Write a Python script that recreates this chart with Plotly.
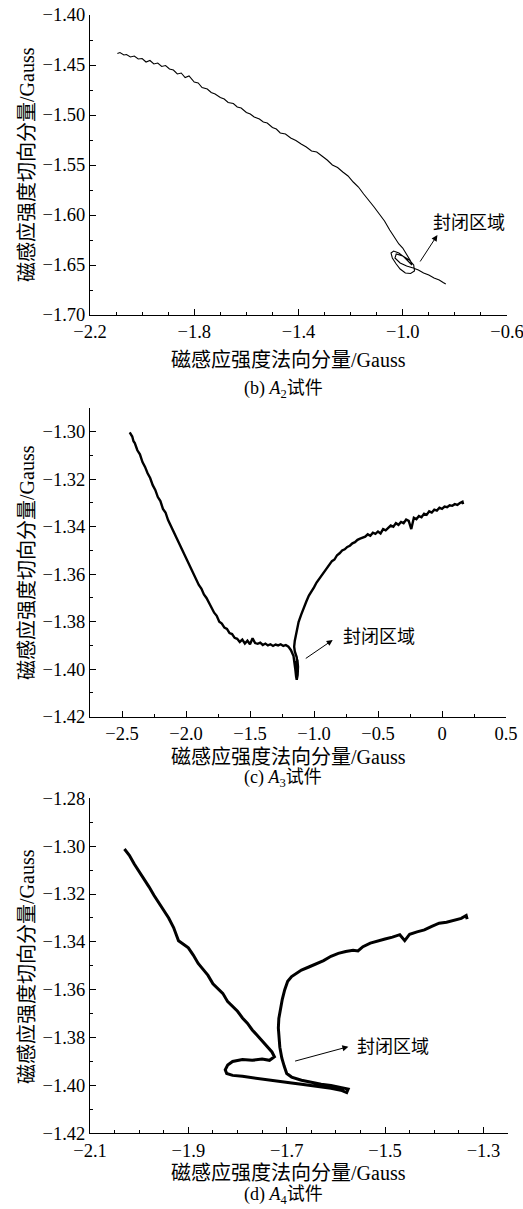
import plotly.graph_objects as go

# ---------- Panel (b) A2 ----------
b_x = [-2.095,-2.085,-2.07,-2.06,-2.045,-2.03,-2.015,-2.0,-1.985,-1.97,-1.955,-1.94,-1.925,-1.91,-1.895,-1.88,
       -1.865,-1.85,-1.835,-1.82,-1.80,-1.785,-1.77,-1.75,-1.735,-1.72,-1.70,-1.685,-1.67,-1.65,-1.635,-1.62,
       -1.60,-1.585,-1.57,-1.55,-1.535,-1.52,-1.50,-1.485,-1.47,-1.45,-1.43,-1.41,-1.39,-1.37,-1.35,-1.33,
       -1.31,-1.29,-1.27,-1.25,-1.23,-1.21,-1.19,-1.17,-1.15,-1.13,-1.11,-1.09,-1.07,-1.05,-1.03,-1.015,-1.0,
       -0.985,-0.97,-0.965,
       -0.975,-0.995,-1.015,-1.035,-1.045,-1.040,-1.025,-1.010,-0.990,-0.970,-0.955,-0.958,-0.975,-1.000,
       -1.025,-1.030,-1.010,-0.985,-0.960,-0.940,-0.920,-0.900,-0.880,-0.860,-0.845,-0.835]
b_y = [-1.4385,-1.4375,-1.4400,-1.4395,-1.4420,-1.4410,-1.4440,-1.4435,-1.4470,-1.4455,-1.4490,-1.4480,-1.4515,
       -1.4505,-1.4540,-1.4550,-1.4590,-1.4580,-1.4625,-1.4610,-1.4670,-1.4680,-1.4725,-1.4740,-1.4775,-1.4790,
       -1.4825,-1.4840,-1.4875,-1.4885,-1.4920,-1.4930,-1.4975,-1.4990,-1.5020,-1.5040,-1.5070,-1.5080,-1.5125,
       -1.5140,-1.5180,-1.5190,-1.5230,-1.5255,-1.5290,-1.5320,-1.5360,-1.5370,-1.5410,-1.5450,-1.5500,-1.5525,
       -1.5570,-1.5610,-1.5670,-1.5720,-1.5790,-1.5850,-1.5920,-1.5990,-1.6060,-1.6150,-1.6230,-1.6290,-1.6330,
       -1.6390,-1.6460,-1.6500,
       -1.6470,-1.6420,-1.6380,-1.6360,-1.6380,-1.6430,-1.6490,-1.6540,-1.6580,-1.6585,-1.6560,-1.6500,-1.6450,
       -1.6410,-1.6390,-1.6430,-1.6480,-1.6510,-1.6530,-1.6550,-1.6580,-1.6600,-1.6630,-1.6650,-1.6675,-1.6690]

# ---------- Panel (c) A3 ----------
c_x = [-2.44,-2.43,-2.42,-2.41,-2.40,-2.38,-2.36,-2.34,-2.32,-2.30,-2.28,-2.26,-2.24,-2.22,-2.20,-2.18,-2.16,
       -2.14,-2.12,-2.10,-2.08,-2.06,-2.04,-2.02,-2.00,-1.98,-1.96,-1.94,-1.92,-1.90,-1.88,-1.86,-1.84,-1.82,
       -1.80,-1.78,-1.76,-1.74,-1.72,-1.70,-1.68,-1.66,-1.64,-1.62,-1.60,-1.58,-1.56,-1.54,-1.52,-1.50,-1.48,
       -1.46,-1.44,-1.42,-1.40,-1.38,-1.36,-1.34,-1.32,-1.30,-1.28,-1.26,-1.24,-1.22,-1.20,-1.18,-1.16,-1.15,
       -1.145,-1.14,-1.135,-1.128,-1.125,-1.13,-1.14,-1.145,-1.14,-1.13,-1.135,-1.15,-1.155,
       -1.15,-1.14,-1.13,-1.12,-1.10,-1.08,-1.06,-1.04,-1.02,-1.00,-0.98,-0.96,-0.94,-0.92,-0.90,-0.88,-0.86,
       -0.84,-0.82,-0.80,-0.78,-0.76,-0.74,-0.72,-0.70,-0.68,-0.66,-0.64,-0.62,-0.60,-0.58,-0.56,-0.54,-0.52,
       -0.50,-0.48,-0.46,-0.44,-0.42,-0.40,-0.38,-0.36,-0.34,-0.32,-0.30,-0.28,-0.26,-0.24,-0.22,-0.20,-0.18,
       -0.16,-0.14,-0.12,-0.10,-0.08,-0.06,-0.04,-0.02,0.00,0.02,0.04,0.06,0.08,0.10,0.12,0.14,0.16,0.165]
c_y = [-1.3003,-1.3012,-1.3020,-1.3040,-1.3048,-1.3078,-1.3095,-1.3128,-1.3148,-1.3175,-1.3195,-1.3225,-1.3245,
       -1.3275,-1.3292,-1.3325,-1.3340,-1.3372,-1.3395,-1.3418,-1.3440,-1.3462,-1.3488,-1.3510,-1.3530,-1.3560,
       -1.3578,-1.3605,-1.3622,-1.3645,-1.3660,-1.3685,-1.3700,-1.3722,-1.3738,-1.3762,-1.3775,-1.3800,-1.3808,
       -1.3825,-1.3830,-1.3848,-1.3852,-1.3868,-1.3872,-1.3885,-1.3875,-1.3892,-1.3880,-1.3895,-1.3870,-1.3890,
       -1.3893,-1.3888,-1.3898,-1.3892,-1.3900,-1.3895,-1.3902,-1.3896,-1.3900,-1.3895,-1.3902,-1.3898,-1.3905,
       -1.3920,-1.3945,-1.3975,-1.4005,-1.4030,-1.4045,-1.4025,-1.3990,-1.3960,-1.3975,-1.3995,-1.4010,-1.3985,
       -1.3950,-1.3925,-1.3905,
       -1.3880,-1.3850,-1.3830,-1.3800,-1.3770,-1.3740,-1.3715,-1.3690,-1.3675,-1.3655,-1.3635,-1.3620,-1.3600,
       -1.3590,-1.3575,-1.3560,-1.3545,-1.3538,-1.3520,-1.3512,-1.3500,-1.3495,-1.3485,-1.3480,-1.3470,-1.3465,
       -1.3455,-1.3450,-1.3445,-1.3442,-1.3432,-1.3438,-1.3425,-1.3430,-1.3420,-1.3428,-1.3410,-1.3415,-1.3405,
       -1.3395,-1.3400,-1.3385,-1.3392,-1.3380,-1.3385,-1.3370,-1.3375,-1.3410,-1.3362,-1.3368,-1.3355,-1.3360,
       -1.3345,-1.3350,-1.3335,-1.3340,-1.3328,-1.3332,-1.3320,-1.3325,-1.3315,-1.3318,-1.3310,-1.3312,-1.3305,
       -1.3308,-1.3300,-1.3295,-1.3305]

# ---------- Panel (d) A4 ----------
d_x = [-2.03,-2.02,-2.01,-2.00,-1.99,-1.98,-1.97,-1.96,-1.95,-1.94,-1.93,-1.92,-1.91,-1.90,-1.89,-1.88,-1.87,
       -1.86,-1.85,-1.84,-1.83,-1.82,-1.81,-1.80,-1.79,-1.78,-1.77,-1.76,-1.75,-1.74,-1.73,-1.725,
       -1.735,-1.75,-1.77,-1.79,-1.81,-1.82,-1.825,-1.822,-1.81,-1.79,-1.77,-1.75,-1.73,-1.71,-1.69,-1.67,-1.65,
       -1.63,-1.61,-1.59,-1.578,-1.575,-1.59,-1.61,-1.63,-1.65,-1.67,-1.69,-1.70,
       -1.705,-1.710,-1.714,-1.716,-1.717,-1.716,-1.713,-1.709,-1.704,-1.698,-1.690,-1.680,-1.670,-1.655,-1.640,
       -1.625,-1.610,-1.595,-1.580,-1.565,-1.555,-1.545,-1.530,-1.515,-1.500,-1.485,-1.470,-1.460,-1.450,-1.435,
       -1.420,-1.405,-1.390,-1.375,-1.360,-1.345,-1.335,-1.333]
d_y = [-1.3012,-1.3038,-1.3075,-1.3105,-1.3140,-1.3170,-1.3205,-1.3235,-1.3270,-1.3300,-1.3340,-1.3395,-1.3410,
       -1.3425,-1.3455,-1.3490,-1.3515,-1.3540,-1.3575,-1.3595,-1.3615,-1.3650,-1.3668,-1.3690,-1.3718,-1.3740,
       -1.3768,-1.3790,-1.3815,-1.3835,-1.3860,-1.3880,
       -1.3895,-1.3890,-1.3895,-1.3892,-1.3900,-1.3915,-1.3935,-1.3950,-1.3958,-1.3962,-1.3968,-1.3975,-1.3980,
       -1.3985,-1.3990,-1.3995,-1.4000,-1.4005,-1.4012,-1.4020,-1.4030,-1.4015,-1.4008,-1.4000,-1.3995,-1.3988,
       -1.3978,-1.3965,-1.3950,
       -1.3920,-1.3885,-1.3840,-1.3800,-1.3760,-1.3720,-1.3680,-1.3640,-1.3600,-1.3565,-1.3545,-1.3530,-1.3518,
       -1.3505,-1.3492,-1.3478,-1.3460,-1.3448,-1.3440,-1.3435,-1.3438,-1.3420,-1.3405,-1.3395,-1.3388,-1.3380,
       -1.3370,-1.3395,-1.3368,-1.3358,-1.3350,-1.3335,-1.3322,-1.3318,-1.3310,-1.3302,-1.3290,-1.3305]

b_xticks = [-2.2, -1.8, -1.4, -1.0, -0.6]
b_xtext = ["\u22122.2", "\u22121.8", "\u22121.4", "\u22121.0", "\u22120.6"]
c_xticks = [-2.5, -2.0, -1.5, -1.0, -0.5, 0, 0.5]
c_xtext = ["\u22122.5", "\u22122.0", "\u22121.5", "\u22121.0", "\u22120.5", "0", "0.5"]
d_xticks = [-2.1, -1.9, -1.7, -1.5, -1.3]
d_xtext = ["\u22122.1", "\u22121.9", "\u22121.7", "\u22121.5", "\u22121.3"]

XTITLE = "磁感应强度法向分量/Gauss"
YTITLE = "磁感应强度切向分量/Gauss"
CAPTIONS = ["(b) <i>A</i><sub>2</sub>试件", "(c) <i>A</i><sub>3</sub>试件", "(d) <i>A</i><sub>4</sub>试件"]
NOTE = "封闭区域"

FONT = "Liberation Serif, Noto Sans CJK SC, serif"
W, H = 523, 1209

fig = go.Figure()
fig.add_trace(go.Scatter(x=b_x, y=b_y, mode="lines", line=dict(color="black", width=1.1), xaxis="x", yaxis="y"))
fig.add_trace(go.Scatter(x=c_x, y=c_y, mode="lines", line=dict(color="black", width=2.4), xaxis="x2", yaxis="y2"))
fig.add_trace(go.Scatter(x=d_x, y=d_y, mode="lines", line=dict(color="black", width=3.0), xaxis="x3", yaxis="y3"))

def px(v):  # vertical pixel -> paper
    return 1 - v / H

TICKFONT = dict(family=FONT, size=18.5, color="black")

def xaxis_cfg(dom, rng, tv, tt, minor_dt, anchor):
    return dict(domain=dom, range=rng, tickvals=tv, ticktext=tt, ticks="inside", ticklen=6, tickwidth=1,
                tickcolor="black", showline=True, linecolor="black", linewidth=1, showgrid=False, zeroline=False,
                minor=dict(ticks="inside", ticklen=3, tickwidth=1, tickcolor="black", tick0=tv[0], dtick=minor_dt, showgrid=False),
                tickfont=TICKFONT, anchor=anchor, automargin=False, ticklabeloverflow="allow")

def yaxis_cfg(dom, rng, t0, dt, minor_dt, anchor):
    return dict(domain=dom, range=rng, tick0=t0, dtick=dt, tickformat=".2f", ticks="inside", ticklen=6, tickwidth=1,
                tickcolor="black", showline=True, linecolor="black", linewidth=1, showgrid=False, zeroline=False,
                minor=dict(ticks="inside", ticklen=3, tickwidth=1, tickcolor="black", tick0=t0, dtick=minor_dt, showgrid=False),
                tickfont=TICKFONT, anchor=anchor, automargin=False, ticklabeloverflow="allow")

x0 = 90 / W
fig.update_layout(
    width=W, height=H, margin=dict(l=0, r=0, t=0, b=0, autoexpand=False), showlegend=False,
    paper_bgcolor="white", plot_bgcolor="white",
    xaxis=xaxis_cfg([x0, 507 / W], [-2.2, -0.6], b_xticks, b_xtext, 0.1, "y"),
    yaxis=yaxis_cfg([px(315), px(15)], [-1.70, -1.40], -1.70, 0.05, 0.025, "x"),
    xaxis2=xaxis_cfg([x0, 506 / W], [-2.75, 0.5], c_xticks, c_xtext, 0.25, "y2"),
    yaxis2=yaxis_cfg([px(716.7), px(408)], [-1.42, -1.29], -1.42, 0.02, 0.01, "x2"),
    xaxis3=xaxis_cfg([x0, 508 / W], [-2.1, -1.25], d_xticks, d_xtext, 0.05, "y3"),
    yaxis3=yaxis_cfg([px(1133.3), px(798.3)], [-1.42, -1.28], -1.42, 0.02, 0.01, "x3"),
)

ann = []
tf = dict(family=FONT, size=20, color="black")
cf = dict(family=FONT, size=18, color="black")
nf = dict(family=FONT, size=18, color="black")
# y-axis titles
for yc in [165, 563, 967]:
    ann.append(dict(text=YTITLE, x=27 / W, y=px(yc), xref="paper", yref="paper", textangle=-90,
                    showarrow=False, font=tf, xanchor="center", yanchor="middle"))
# x-axis titles and captions
for yc in [360, 757, 1173]:
    ann.append(dict(text=XTITLE, x=288 / W, y=px(yc), xref="paper", yref="paper", showarrow=False, font=tf,
                    yanchor="middle"))
for cap, yc in zip(CAPTIONS, [390, 778, 1195]):
    ann.append(dict(text=cap, x=283 / W, y=px(yc), xref="paper", yref="paper", showarrow=False, font=cf,
                    yanchor="middle"))

# arrows + notes
arrows = [("x", "y", -0.867, -1.620, -0.937, -1.648, -0.746, -1.608),
          ("x2", "y2", -0.854, -1.3877, -1.076, -1.3959, -0.49, -1.3863),
          ("x3", "y3", -1.5746, -1.3838, -1.686, -1.3900, -1.483, -1.3838)]
for xr, yr, hx, hy, tx, ty, nx, ny in arrows:
    ann.append(dict(x=hx, y=hy, ax=tx, ay=ty, xref=xr, yref=yr, axref=xr, ayref=yr, text="",
                    showarrow=True, arrowhead=2, arrowsize=1.2, arrowwidth=1, arrowcolor="black"))
    ann.append(dict(x=nx, y=ny, xref=xr, yref=yr, text=NOTE, showarrow=False, font=nf))

fig.update_layout(annotations=ann)
fig.write_html("out.html", config={"displayModeBar": False},
               post_script="document.body.style.margin='0';document.body.style.overflow='hidden';")
